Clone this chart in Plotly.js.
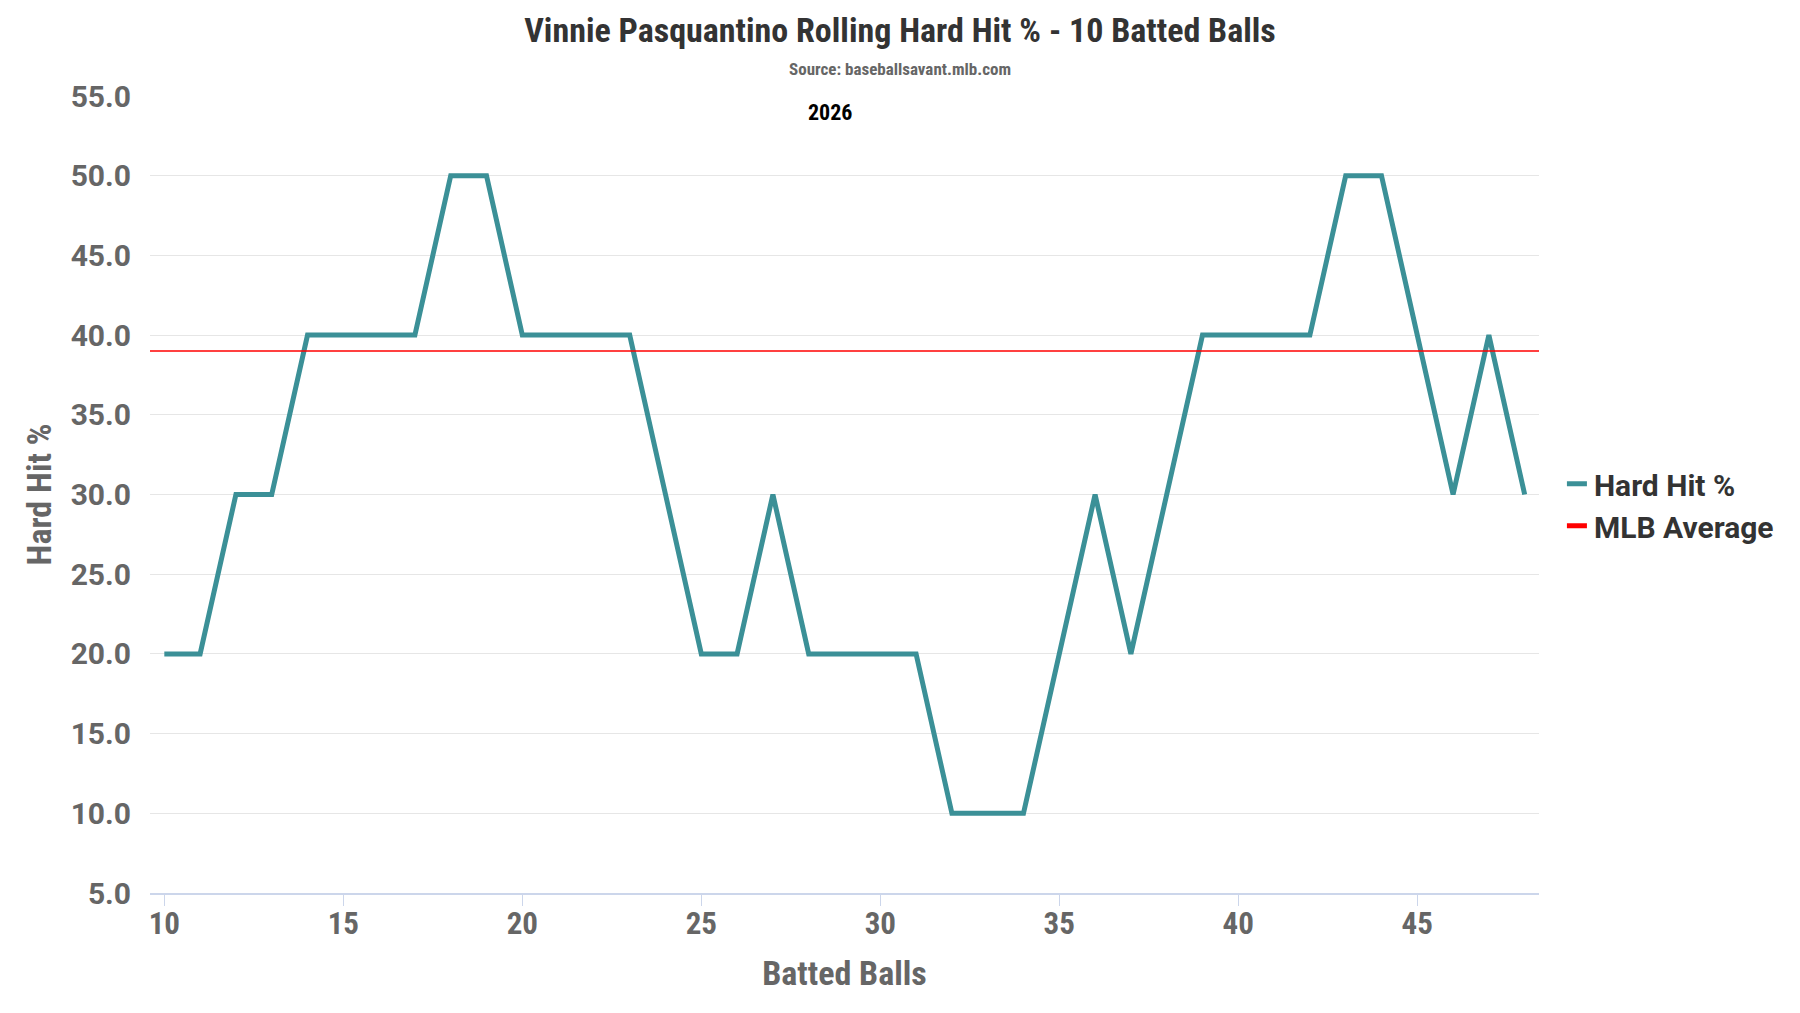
<!DOCTYPE html>
<html>
<head>
<meta charset="utf-8">
<script src="https://cdn.plot.ly/plotly-3.0.1.min.js"></script>
<style>html,body{margin:0;padding:0;background:#fff;}#chart{width:1800px;height:1013px;}</style>
</head>
<body>
<div id="chart"></div>
<script>
const battedBalls = [10,11,12,13,14,15,16,17,18,19,20,21,22,23,24,25,26,27,28,29,30,31,32,33,34,35,36,37,38,39,40,41,42,43,44,45,46,47,48];
const hardHitPct = [20,20,30,30,40,40,40,40,50,50,40,40,40,40,30,20,20,30,20,20,20,20,10,10,10,20,30,20,30,40,40,40,40,50,50,40,30,40,30];
const mlbAverage = 39.0;
const yTicks = [5,10,15,20,25,30,35,40,45,50,55];
const xTicks = [10,15,20,25,30,35,40,45];

const condensed = "'Roboto Condensed', 'Liberation Sans Narrow', 'DejaVu Sans Condensed', sans-serif";
const roboto = "Roboto, 'Liberation Sans', sans-serif";

const traces = [
  {
    x: battedBalls, y: hardHitPct, type: 'scatter', mode: 'lines', name: 'Hard Hit %',
    line: {color: '#3b9097', width: 5}
  },
  {
    x: [battedBalls[0] - 1, battedBalls[battedBalls.length - 1] + 1],
    y: [mlbAverage, mlbAverage], type: 'scatter', mode: 'lines', name: 'MLB Average',
    line: {color: '#ff0000', width: 1.5}
  }
];

const plotW = 1800 - 150 - 261;

const layout = {
  width: 1800, height: 1013,
  paper_bgcolor: '#ffffff', plot_bgcolor: '#ffffff',
  margin: {l: 150, r: 261, t: 96, b: 120},
  title: {
    text: '<b>Vinnie Pasquantino Rolling Hard Hit % - 10 Batted Balls</b>',
    font: {family: condensed, size: 34, color: '#333333'},
    x: 0.5, xanchor: 'center', y: 0.97, yanchor: 'middle'
  },
  showlegend: true,
  legend: {
    x: 1.0165, xanchor: 'left', y: 0.487, yanchor: 'middle',
    font: {family: roboto, size: 30, color: '#333333', weight: 'bold'},
    itemwidth: 30, tracegroupgap: 0
  },
  xaxis: {
    range: [9.6, 48.4],
    tickvals: xTicks, ticktext: xTicks.map(String),
    showgrid: false, zeroline: false,
    showline: true, linecolor: '#ccd6eb', linewidth: 1.5,
    ticks: 'outside', ticklen: 11, tickcolor: '#ccd6eb', tickwidth: 1,
    tickfont: {family: condensed, size: 31, color: '#666666', weight: 'bold'},
    ticklabelstandoff: -9,
    title: {text: '<b>Batted Balls</b>', font: {family: condensed, size: 34, color: '#666666'}, standoff: 20}
  },
  yaxis: {
    range: [5, 55],
    tickvals: yTicks, ticktext: yTicks.map(v => v.toFixed(1)),
    showgrid: true, gridcolor: '#e6e6e6', gridwidth: 1,
    zeroline: false, showline: false, ticks: '',
    tickfont: {family: roboto, size: 30, color: '#666666', weight: 'bold'},
    ticklabelstandoff: 18,
    title: {text: '<b>Hard Hit %</b>', font: {family: condensed, size: 34, color: '#666666'}, standoff: 8}
  },
  annotations: [
    {
      text: '<b>Source: baseballsavant.mlb.com</b>', xref: 'paper', yref: 'paper',
      x: (900 - 150) / plotW, y: 1, yshift: 27, xanchor: 'center', yanchor: 'middle', showarrow: false,
      font: {family: condensed, size: 17, color: '#666666'}
    },
    {
      text: '<b>2026</b>', xref: 'paper', yref: 'paper',
      x: (830 - 150) / plotW, y: 1, yshift: -16, xanchor: 'center', yanchor: 'middle', showarrow: false,
      font: {family: condensed, size: 22, color: '#000000'}
    }
  ]
};

Plotly.newPlot('chart', traces, layout, {displayModeBar: false, responsive: false}).then(function (gd) {
  gd.querySelectorAll('.legend .traces path.js-line').forEach(function (p) {
    p.setAttribute('d', 'M5,0h20');
    p.style.strokeWidth = '5px';
  });
  gd.querySelectorAll('.legend .traces text.legendtext').forEach(function (t) {
    t.setAttribute('x', '32');
  });
});
</script>
</body>
</html>
